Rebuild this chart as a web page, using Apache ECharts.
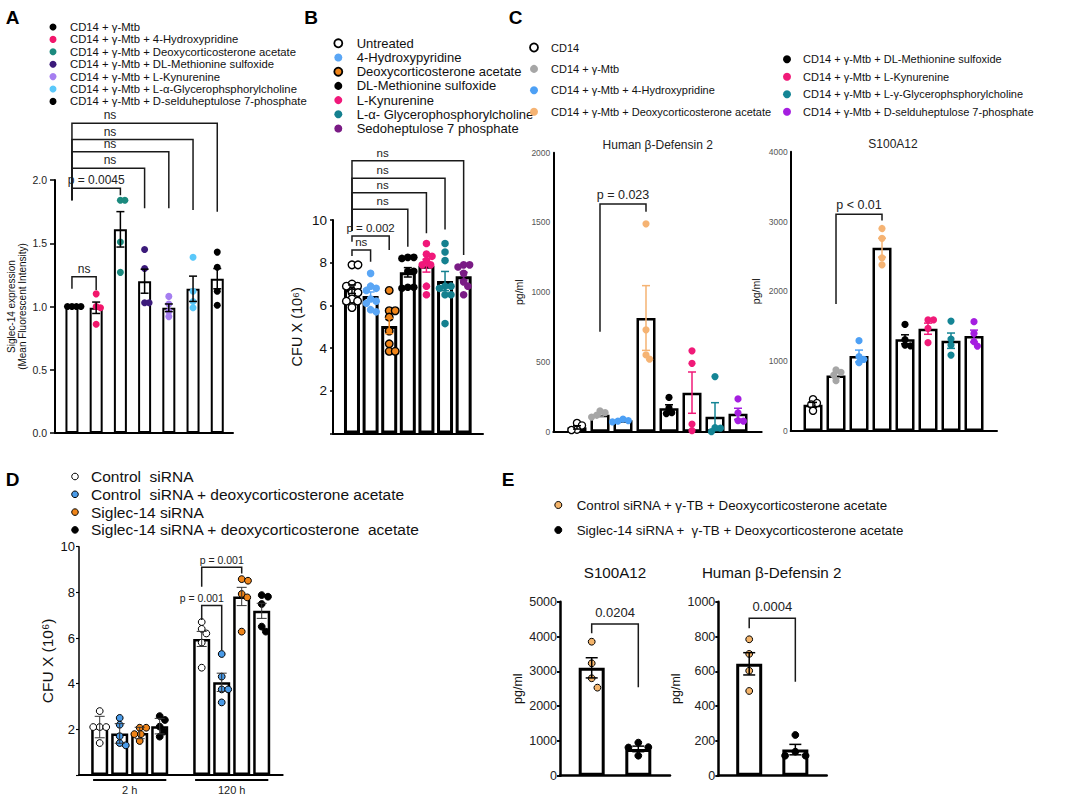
<!DOCTYPE html>
<html><head><meta charset="utf-8">
<script src="https://cdn.jsdelivr.net/npm/echarts@6.0.0/dist/echarts.min.js"></script>
<style>html,body{margin:0;padding:0;background:#fff}#c{width:1080px;height:802px}</style>
</head><body><div id="c"></div>
<script>
const FONT = 'Liberation Sans, Arial, Helvetica, sans-serif';

// ---------------- Panel A ----------------
const aLabels = ['CD14 + γ-Mtb','CD14 + γ-Mtb + 4-Hydroxypridine','CD14 + γ-Mtb + Deoxycorticosterone acetate','CD14 + γ-Mtb + DL-Methionine sulfoxide','CD14 + γ-Mtb + L-Kynurenine','CD14 + γ-Mtb + L-α-Glycerophsphorylcholine','CD14 + γ-Mtb + D-selduheptulose 7-phosphate'];
const aColors = ['#000000','#f2166b','#1b8a7e','#3b1a7a','#a57ef0','#5ac8fa','#000000'];
const aMeans = [1.00, 0.99, 1.61, 1.20, 0.99, 1.14, 1.22];
const aSEM = [0, 0.045, 0.14, 0.095, 0.03, 0.10, 0.08];
const aPoints = [[1.00,1.00,1.00,1.00],[1.10,1.00,0.99,0.86],[1.84,1.84,1.51,1.27],[1.45,1.30,1.03,1.03],[1.08,1.02,0.96,0.92],[1.39,1.12,1.04,0.99],[1.43,1.31,1.12,1.01]];
// [from, to, top, fromEnd, toEnd, label, labelAt]
const aBrackets = [[0,1,1.236,1.14,1.13,'ns'],[0,2,1.934,1.842,1.88,'p = 0.0045'],[0,3,2.092,1.84,1.776,'ns',1.57],[0,4,2.224,1.84,1.776,'ns',1.57],[0,5,2.32,1.84,1.763,'ns',1.57],[0,6,2.448,1.84,1.75,'ns',1.57]];

// ---------------- Panel B ----------------
const bLabels = ['Untreated','4-Hydroxypyridine','Deoxycorticosterone acetate','DL-Methionine sulfoxide','L-Kynurenine','L-α- Glycerophosphorylcholine','Sedoheptulose 7 phosphate'];
const bColors = ['#ffffff','#5aa6f5','#f08519','#000000','#f0187a','#14808f','#7a1b85'];
const bMeans = [6.76, 6.44, 5.04, 7.55, 7.86, 7.14, 7.37];
const bSEM = [0.20, 0.19, 0.36, 0.22, 0.30, 0.45, 0.18];
const bPoints = [[7.9,7.9,7.0,6.9,6.9,6.6,6.6,6.3,6.2,6.2,5.9],[7.5,6.9,6.8,6.7,6.3,6.2,6.1,5.8,5.7],[6.7,5.75,5.75,5.45,4.8,4.2,3.85,3.85],[8.25,8.25,8.2,7.6,7.6,6.85,6.8,6.85],[8.9,8.4,8.3,8.1,7.9,7.9,6.9,6.5],[8.9,8.5,8.1,6.9,6.9,6.8,6.5,6.5,5.15],[7.9,7.9,7.8,7.5,7.1,6.9,6.5]];
const bBrackets = [[0,1,8.59,8.31,8.05,'ns'],[0,2,9.25,8.98,8.59,'p = 0.002'],[0,3,10.5,9.5,8.75,'ns',1.65],[0,4,11.28,9.5,9.38,'ns',1.65],[0,5,11.95,9.5,9.56,'ns',1.65],[0,6,12.78,9.5,8.36,'ns',1.65]];

// ---------------- Panel C ----------------
const cLabels = ['CD14','CD14 + γ-Mtb','CD14 + γ-Mtb + 4-Hydroxypridine','CD14 + γ-Mtb + Deoxycorticosterone acetate','CD14 + γ-Mtb + DL-Methionine sulfoxide','CD14 + γ-Mtb + L-Kynurenine','CD14 + γ-Mtb + L-γ-Glycerophsphorylcholine','CD14 + γ-Mtb + D-selduheptulose 7-phosphate'];
const cColors = ['#ffffff','#a6a6a6','#4da0f5','#f5b373','#000000','#f01a78','#148595','#a51ee0'];
const cHbdMeans = [31, 122, 82, 815, 168, 280, 108, 128];
const cHbdSEM = [12, 10, 5, 232, 25, 148, 100, 40];
const cHbdPoints = [[62,45,15,12],[150,136,118,105],[90,80,75,70],[1490,730,520,550],[246,170,136,130],[580,490,55,7],[395,30,25,0],[235,135,80,75]];
const cHbdBrackets = [[1,3,1632,717,1577,'p = 0.023']];
const cS100Means = [375, 795, 1074, 2625, 1313, 1465, 1293, 1360];
const cS100SEM = [35, 35, 85, 135, 65, 80, 110, 85];
const cS100Points = [[455,400,380,290],[874,841,802,721],[1294,1065,1027,979],[2900,2760,2480,2380],[1527,1310,1231,1220],[1590,1590,1470,1265],[1575,1317,1231,1088],[1565,1398,1279,1217]];
const cS100Brackets = [[1,3,3104,1819,3013,'p < 0.01']];

// ---------------- Panel D ----------------
const dTimes = ['2 h','120 h'];
const dLabels = ['Control  siRNA','Control  siRNA + deoxycorticosterone acetate','Siglec-14 siRNA','Siglec-14 siRNA + deoxycorticosterone  acetate'];
const dColors = ['#ffffff','#4a9be8','#ef8418','#000000'];
const dMeans = [[2.10,1.82,1.84,2.14],[5.96,4.06,7.82,7.19]];
const dErr = [[0.47,0.43,0.25,0.34],[0.33,0.40,0.40,0.33]];
const dPoints = [
  [[2.8,2.1,2.1,2.1,1.4],[2.5,2.2,1.7,1.4,1.3],[2.07,2.07,1.79,1.79,1.49],[2.58,2.41,2.12,1.9,1.68]],
  [[6.7,6.4,6.2,5.8,4.7],[5.3,4.31,3.75,3.75,3.18],[8.58,8.51,7.93,7.78,6.28],[7.88,7.81,7.49,6.5,6.28]]
];
// bracket indices refer to flattened bars (time * 4 + condition)
const dBrackets = [[4,5,7.42,6.79,5.48,'p = 0.001',4],[4,6,9.1,8.25,8.83,'p = 0.001']];

// ---------------- Panel E ----------------
const eLabels = ['Control siRNA + γ-TB + Deoxycorticosterone acetate','Siglec-14 siRNA +  γ-TB + Deoxycorticosterone acetate'];
const eColors = ['#f4b46a','#000000'];
const eS100Means = [3100, 770];
const eS100SEM = [290, 80];
const eS100Points = [[3850,3230,2800,2530],[950,820,810,575]];
const eS100Brackets = [[0,1,4360,4090,2540,'0.0204']];
const eHbdMeans = [643, 150];
const eHbdSEM = [64, 30];
const eHbdPoints = [[784,700,603,487],[234,138,115,115]];
const eHbdBrackets = [[0,1,905,847,540,'0.0004']];

// ================= builders =================
const grids = [], xAxes = [], yAxes = [], series = [], gfx = [];

function posAt(xs, idx){
  const i = Math.floor(idx), f = idx - i;
  if (f === 0 || i + 1 >= xs.length) return xs[Math.min(i, xs.length-1)];
  return xs[i] + f * (xs[i+1] - xs[i]);
}

function addPanel(p){
  const gi = grids.length;
  grids.push({left:p.box[0], top:p.box[1], width:p.box[2], height:p.box[3]});
  xAxes.push({gridIndex:gi, type:'value', min:p.xMin, max:p.xMax,
    axisLine:{show:true, onZero:true, lineStyle:{color:'#000', width:p.xLineW}},
    axisTick:{show:false}, axisLabel:{show:false}, splitLine:{show:false}});
  yAxes.push({gridIndex:gi, type:'value', min:p.yMin, max:p.yMax, interval:p.yInterval,
    name:p.yName, nameLocation:'middle', nameRotate:90, nameGap:p.nameGap,
    nameTextStyle:{fontFamily:FONT, fontSize:p.nameSize, color:'#111', lineHeight:p.nameSize+1.5},
    axisLine:{show:true, onZero:false, lineStyle:{color:'#000', width:p.yLineW}},
    axisTick:{show:p.tickLen>0, length:p.tickLen, lineStyle:{color:'#000', width:p.yLineW*0.75}},
    axisLabel:{fontFamily:FONT, fontSize:p.labelSize, color:p.labelColor, margin:p.labelMargin, formatter:p.fmt},
    splitLine:{show:false}});
  const xs = p.xs;
  const common = {xAxisIndex:gi, yAxisIndex:gi, animation:false, silent:true};
  series.push(Object.assign({type:'bar', data:xs.map((x,i)=>[x,p.means[i]]), barWidth:p.barW,
    itemStyle:{color:'#fff', borderColor:'#000', borderWidth:p.barBorder}, z:2}, common));
  // dots (beeswarm computed in pixel space)
  series.push(Object.assign({type:'custom', clip:false, z:3, encode:{x:0, y:1},
    data:xs.map((x,i)=>[x,i]),
    renderItem:function(params, api){
      const x = api.value(0), g = api.value(1);
      const vals = p.points[g].slice().sort((a,b)=>b-a);
      const cx0 = api.coord([x, 0])[0];
      const placed = [];
      const md = p.minD;
      vals.forEach(v=>{
        const cy = api.coord([x, v])[1];
        const cands = [0];
        placed.forEach(q=>{ const dy = Math.abs(q.y-cy); if (dy < md){ const dx = Math.sqrt(md*md-dy*dy); cands.push(q.x+dx, q.x-dx);} });
        cands.sort((a,b)=>Math.abs(a)-Math.abs(b));
        let ox = cands.find(c=>placed.every(q=>Math.hypot(q.x-c, q.y-cy) >= md-0.01));
        if (ox === undefined) ox = 0;
        placed.push({x:ox, y:cy});
      });
      const fill = p.colors[g];
      const stroke = p.dotStroke[g];
      return {type:'group', children:placed.map(q=>({type:'circle', shape:{cx:cx0+q.x, cy:q.y, r:p.r},
        style:{fill:fill, stroke:stroke || null, lineWidth:stroke ? p.dotLW : 0}}))};
    }}, common));
  // error bars
  series.push(Object.assign({type:'custom', clip:false, z:4, encode:{x:0, y:1},
    data:xs.map((x,i)=>[x,p.means[i],p.err[i],i]),
    renderItem:function(params, api){
      const x = api.value(0), m = api.value(1), s = api.value(2), i = api.value(3);
      if (!s) return {type:'group', children:[]};
      const t = api.coord([x, m+s]), b = api.coord([x, m-s]);
      const hw = p.capW/2;
      const col = p.errColors[i];
      const st = {stroke:col, lineWidth:p.errW};
      return {type:'group', children:[
        {type:'line', shape:{x1:t[0], y1:t[1], x2:b[0], y2:b[1]}, style:st},
        {type:'line', shape:{x1:t[0]-hw, y1:t[1], x2:t[0]+hw, y2:t[1]}, style:st},
        {type:'line', shape:{x1:b[0]-hw, y1:b[1], x2:b[0]+hw, y2:b[1]}, style:st}]};
    }}, common));
  // significance brackets
  if (p.brackets){
    series.push(Object.assign({type:'custom', clip:false, z:5, encode:{x:0, y:2},
      data:p.brackets.map((br,k)=>[xs[br[0]], xs[br[1]], br[2], br[3], br[4], posAt(xs, br[6]!=null ? br[6] : (br[0]+br[1])/2), k]),
      renderItem:function(params, api){
        const x1 = api.value(0), x2 = api.value(1), top = api.value(2), e1 = api.value(3), e2 = api.value(4), lx = api.value(5), k = api.value(6);
        const a = api.coord([x1, e1]), b = api.coord([x1, top]), c = api.coord([x2, top]), d = api.coord([x2, e2]);
        const l = api.coord([lx, top]);
        return {type:'group', children:[
          {type:'polyline', shape:{points:[a,b,c,d]}, style:{stroke:'#1a1a1a', lineWidth:p.brW, fill:null}},
          {type:'text', x:l[0], y:l[1]-p.brGap, style:{text:p.brackets[k][5], fill:'#222', fontSize:p.brSize, fontFamily:FONT,
            align:'center', verticalAlign:'bottom', textAlign:'center', textVerticalAlign:'bottom'}}]};
      }}, common));
  }
  // group labels under x axis (panel D)
  if (p.groups){
    series.push(Object.assign({type:'custom', clip:false, z:5, encode:{x:0, y:2},
      data:p.groups.map((g,k)=>[g[0], g[1], 0, k]),
      renderItem:function(params, api){
        const s = api.coord([api.value(0), 0]), e = api.coord([api.value(1), 0]), k = api.value(3);
        return {type:'group', children:[
          {type:'line', shape:{x1:s[0], y1:s[1]+5, x2:e[0], y2:e[1]+5}, style:{stroke:'#000', lineWidth:2}},
          {type:'text', x:(s[0]+e[0])/2, y:s[1]+15, style:{text:p.groupNames[k], fill:'#222', fontSize:11, fontFamily:FONT,
            align:'center', verticalAlign:'middle', textAlign:'center', textVerticalAlign:'middle'}}]};
      }}, common));
  }
}

const idx = n => Array.from({length:n}, (_,i)=>i);
const oneDec = v => v.toFixed(1);
const noZero = v => v === 0 ? '' : String(v);
const plain = v => String(v);

// Panel A
addPanel({box:[55,180,178,253], xMin:-0.70, xMax:6.65, yMin:0, yMax:2, yInterval:0.5,
  yName:'Siglec-14 expression\n(Mean Fluorescent Intensity)', nameGap:23, nameSize:10,
  xLineW:2, yLineW:2, tickLen:5, labelSize:10.5, labelColor:'#222', labelMargin:8, fmt:oneDec,
  xs:idx(7), means:aMeans, err:aSEM, points:aPoints, colors:aColors, dotStroke:aColors.map(()=>null), dotLW:0,
  r:3.5, minD:4.5, barW:13, barBorder:2, capW:8, errW:1.5, errColors:aColors.map(()=>'#000'),
  brackets:aBrackets, brW:1.5, brGap:2, brSize:12});
// Panel B
addPanel({box:[333,220,150,213.5], xMin:-1.02, xMax:7.04, yMin:0, yMax:10, yInterval:2,
  yName:'CFU X (10⁶)', nameGap:28, nameSize:14.5,
  xLineW:2, yLineW:2, tickLen:3, labelSize:13.5, labelColor:'#111', labelMargin:6, fmt:noZero,
  xs:idx(7), means:bMeans, err:bSEM, points:bPoints, colors:bColors,
  dotStroke:['#000',null,'#000',null,null,null,null], dotLW:1.4,
  r:3.8, minD:6, barW:16, barBorder:3, capW:8, errW:1.5, errColors:bColors.map(c=>c==='#ffffff'?'#000':c),
  brackets:bBrackets, brW:1.5, brGap:2, brSize:11.5});
// Panel C (two plots)
const cPanel = {xMin:-1.03, xMax:8.03, yMin:0, yName:'pg/ml', nameSize:10.5,
  xLineW:2, yLineW:2, tickLen:0, labelSize:8.5, labelColor:'#555', labelMargin:3, fmt:plain,
  xs:idx(8), colors:cColors, dotStroke:['#000',null,null,null,null,null,null,null], dotLW:1.3,
  r:3.6, minD:5.5, barW:19, barBorder:2.5, capW:8, errW:1.5, errColors:cColors.map(c=>c==='#ffffff'?'#000':c),
  brW:1.5, brGap:3, brSize:12.5};
addPanel(Object.assign({}, cPanel, {box:[553.3,152.7,208.4,279], yMax:2000, yInterval:500, nameGap:28,
  means:cHbdMeans, err:cHbdSEM, points:cHbdPoints, brackets:cHbdBrackets}));
addPanel(Object.assign({}, cPanel, {box:[790.7,151.7,206.3,279.3], xMin:-0.97, xMax:8.0, yMax:4000, yInterval:1000, nameGap:29,
  means:cS100Means, err:cS100SEM, points:cS100Points, brackets:cS100Brackets}));
// Panel D
const dXs = [], dM = [], dE = [], dP = [], dC = [];
dTimes.forEach((t,g)=>dLabels.forEach((l,c)=>{ dXs.push(g*5.1 + c); dM.push(dMeans[g][c]); dE.push(dErr[g][c]); dP.push(dPoints[g][c]); dC.push(dColors[c]); }));
addPanel({box:[79,546.7,203.7,228.3], xMin:-1.035, xMax:9.15, yMin:0, yMax:10, yInterval:2,
  yName:'CFU X (10⁶)', nameGap:23, nameSize:15.5,
  xLineW:2, yLineW:1.5, tickLen:3, labelSize:13, labelColor:'#111', labelMargin:4, fmt:noZero,
  xs:dXs, means:dM, err:dE, points:dP, colors:dC, dotStroke:dC.map(()=>'#000'), dotLW:1,
  r:3.4, minD:6.5, barW:17, barBorder:2.5, capW:10, errW:1, errColors:dC.map(()=>'#333'),
  brackets:dBrackets, brW:1.5, brGap:2, brSize:10.5,
  groups:dTimes.map((t,g)=>[dXs[g*4]-0.33, dXs[g*4+3]+0.33]), groupNames:dTimes});
// Panel E (two plots)
const ePanel = {xMin:-0.68, xMax:1.68, yMin:0, yName:'pg/ml', nameSize:12.5,
  xLineW:2.5, yLineW:2.5, tickLen:3, labelSize:12.5, labelColor:'#222', labelMargin:3, fmt:plain,
  xs:idx(2), colors:eColors, dotStroke:['#000','#000'], dotLW:1,
  r:3.4, minD:11, barW:26, barBorder:3, capW:12, errW:1.5, errColors:['#000','#000'],
  brW:1.5, brGap:5, brSize:13};
addPanel(Object.assign({}, ePanel, {box:[560,601.7,110,174], yMax:5000, yInterval:1000, nameGap:34,
  means:eS100Means, err:eS100SEM, points:eS100Points, brackets:eS100Brackets}));
addPanel(Object.assign({}, ePanel, {box:[718.3,601.7,108.4,174], xMin:-0.67, yMax:1000, yInterval:200, nameGap:35,
  means:eHbdMeans, err:eHbdSEM, points:eHbdPoints, brackets:eHbdBrackets}));

// ================= graphics: legends, titles =================
function txt(x, y, s, size, opts){
  opts = opts || {};
  gfx.push({type:'text', x:x, y:y, silent:true, style:{text:s, fill:opts.fill||'#111', fontSize:size, fontFamily:FONT,
    fontWeight:opts.weight||'normal', align:opts.align||'left', verticalAlign:'middle', textAlign:opts.align||'left', textVerticalAlign:'middle'}});
}
function legend(labels, colors, mx, tx, y0, dy, r, size, strokes, lw){
  labels.forEach((l,i)=>{
    const y = y0 + i*dy;
    const st = strokes ? strokes[i] : null;
    gfx.push({type:'circle', silent:true, shape:{cx:mx, cy:y, r:r}, style:{fill:colors[i], stroke:st, lineWidth:st?lw:0}});
    txt(tx, y, l, size);
  });
}
legend(aLabels, aColors, 53, 70, 27, 12.4, 3.5, 11.3);
legend(bLabels, bColors, 338.3, 356.7, 43.3, 14.2, 4, 13, ['#000',null,'#000',null,null,null,null], 1.8);
legend(cLabels.slice(0,4), cColors.slice(0,4), 534, 551, 47.5, 21.4, 4, 11, ['#000',null,null,null], 1.8);
legend(cLabels.slice(4), cColors.slice(4), 787, 803, 59.3, 17.5, 4, 11);
legend(dLabels, dColors, 75, 91, 476.5, 17.8, 3.3, 15.5, dColors.map(()=>'#000'), 1);
legend(eLabels, eColors, 558.3, 576.7, 505, 25, 3.5, 13.3, ['#000','#000'], 1);

[['A',12.5,17.5],['B',311,17.5],['C',515.5,17.5],['D',12.5,479],['E',508,479]].forEach(t=>txt(t[1], t[2], t[0], 19, {weight:'bold', align:'center', fill:'#000'}));
txt(657.7, 145, 'Human β-Defensin 2', 12, {align:'center', fill:'#222'});
txt(893, 144, 'S100A12', 12, {align:'center', fill:'#222'});
txt(615, 572.7, 'S100A12', 15.2, {align:'center', fill:'#111'});
txt(771.7, 572.7, 'Human β-Defensin 2', 15.2, {align:'center', fill:'#111'});

const chart = echarts.init(document.getElementById('c'), null, {renderer:'svg', width:1080, height:802});
chart.setOption({
  animation:false,
  backgroundColor:'#ffffff',
  textStyle:{fontFamily:FONT},
  grid:grids, xAxis:xAxes, yAxis:yAxes, series:series,
  graphic:{elements:gfx}
});
</script></body></html>
